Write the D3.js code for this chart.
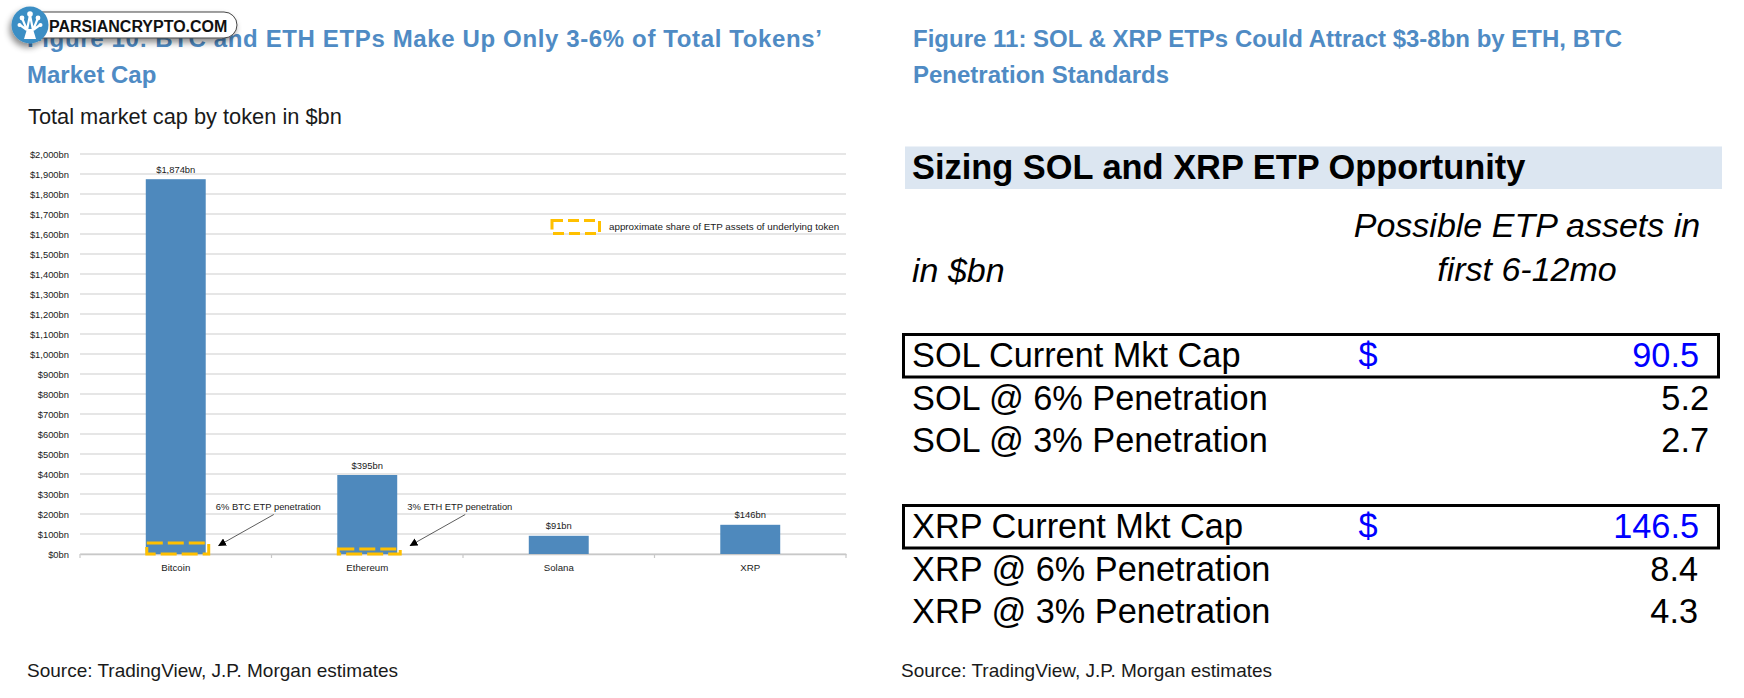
<!DOCTYPE html>
<html>
<head>
<meta charset="utf-8">
<script src="https://cdn.jsdelivr.net/npm/d3@7"></script>
<style>
  html, body { margin: 0; padding: 0; background: #ffffff; }
  svg { display: block; font-family: "Liberation Sans", Arial, Helvetica, sans-serif; }
</style>
</head>
<body>
<svg id="chart" width="1744" height="698"></svg>
<script>
// ---------- data ----------
const categories = ["Bitcoin", "Ethereum", "Solana", "XRP"];
const marketCap = [1874, 395, 91, 146];               // $bn
const etpBoxValue = [55, 25, null, null];             // approx ETP share box height ($bn)
const etpNotes = ["6% BTC ETP penetration", "3% ETH ETP penetration", null, null];
const yTicks = d3.range(0, 2001, 100);
const legendText = "approximate share of ETP assets of underlying token";

const leftTitle = ["Figure 10: BTC and ETH ETPs Make Up Only 3-6% of Total Tokens\u2019", "Market Cap"];
const leftSubtitle = "Total market cap by token in $bn";
const rightTitle = ["Figure 11: SOL & XRP ETPs Could Attract $3-8bn by ETH, BTC", "Penetration Standards"];
const tableHeader = "Sizing SOL and XRP ETP Opportunity";
const colHeader = ["Possible ETP assets in", "first 6-12mo"];
const unitLabel = "in $bn";
const tableGroups = ["SOL", "XRP"];
const rowLabels = [
  ["SOL Current Mkt Cap", "SOL @ 6% Penetration", "SOL @ 3% Penetration"],
  ["XRP Current Mkt Cap", "XRP @ 6% Penetration", "XRP @ 3% Penetration"]
];
const rowValues = [[90.5, 5.2, 2.7], [146.5, 8.4, 4.3]];
const sourceText = "Source: TradingView, J.P. Morgan estimates";

// ---------- styles ----------
const titleBlue = "#4f8bc4";
const barBlue = "#4e89bd";
const gold = "#ffc000";
const textDark = "#1a1a1a";

const svg = d3.select("#chart");
svg.append("rect").attr("width", 1744).attr("height", 698).attr("fill", "#fff");

const defs = svg.append("defs");
defs.append("marker").attr("id", "arrow").attr("viewBox", "0 0 10 10")
  .attr("refX", 9).attr("refY", 5).attr("markerWidth", 8).attr("markerHeight", 8)
  .attr("markerUnits", "userSpaceOnUse").attr("orient", "auto")
  .append("path").attr("d", "M0,0 L10,5 L0,10 Z").attr("fill", "#000");
const shadow = defs.append("filter").attr("id", "shadow").attr("x", "-30%").attr("y", "-50%").attr("width", "160%").attr("height", "220%");
shadow.append("feDropShadow").attr("dx", -2).attr("dy", 4).attr("stdDeviation", 3).attr("flood-color", "#000").attr("flood-opacity", 0.45);

// ---------- left panel titles (first line justified to column width) ----------
leftTitle.forEach((t, i) => {
  const el = svg.append("text").attr("x", 27).attr("y", 46.5 + i * 36.6)
    .attr("font-size", 24).attr("font-weight", "bold").attr("fill", titleBlue).text(t);
  if (i === 0) {
    const len = el.node().getComputedTextLength();
    const target = 795;
    if (len < target) el.attr("textLength", target).attr("lengthAdjust", "spacing");
  }
});
svg.append("text").attr("x", 28).attr("y", 123.5).attr("font-size", 21.8).attr("fill", textDark).text(leftSubtitle);

// ---------- bar chart ----------
const y = d3.scaleLinear().domain([0, 2000]).range([554, 154]);
const x = d3.scaleBand().domain(categories).range([80, 846]).padding(0);
const barW = x.bandwidth() * 0.313;

// gridlines
svg.append("g").selectAll("line").data(yTicks).join("line")
  .attr("x1", 80).attr("x2", 846)
  .attr("y1", d => y(d)).attr("y2", d => y(d))
  .attr("stroke", "#dedede").attr("stroke-width", 1.5);

// y axis labels
const yAxis = d3.axisLeft(y).tickValues(yTicks).tickSize(0).tickPadding(0)
  .tickFormat(d => "$" + d3.format(",")(d) + "bn");
const gy = svg.append("g").attr("transform", "translate(69,0)").call(yAxis);
gy.select(".domain").remove();
gy.selectAll("text").attr("font-size", 9.4).attr("fill", textDark)
  .attr("font-family", "'Liberation Sans', Arial, sans-serif");

// x axis
const xAxis = d3.axisBottom(x).tickSize(0).tickPadding(10);
const gx = svg.append("g").attr("transform", "translate(0,554)").call(xAxis);
gx.select(".domain").attr("stroke", "#c8c8c8").attr("stroke-width", 1.5);
gx.selectAll("text").attr("font-size", 9.7).attr("fill", textDark)
  .attr("font-family", "'Liberation Sans', Arial, sans-serif");
const edges = categories.map(c => x(c)).concat([x(categories[categories.length - 1]) + x.bandwidth()]);
svg.append("g").selectAll("line").data(edges).join("line")
  .attr("x1", d => d).attr("x2", d => d).attr("y1", 554).attr("y2", 558)
  .attr("stroke", "#c8c8c8").attr("stroke-width", 1.2);

// bars
const barData = categories.map((c, i) => ({ c, v: marketCap[i], box: etpBoxValue[i], note: etpNotes[i] }));
svg.append("g").selectAll("rect").data(barData).join("rect")
  .attr("x", d => x(d.c) + (x.bandwidth() - barW) / 2)
  .attr("y", d => y(d.v)).attr("width", barW).attr("height", d => y(0) - y(d.v))
  .attr("fill", barBlue);

// value labels
svg.append("g").selectAll("text").data(barData).join("text")
  .attr("x", d => x(d.c) + x.bandwidth() / 2)
  .attr("y", d => y(d.v) - 6.5)
  .attr("text-anchor", "middle").attr("font-size", 9.4).attr("fill", textDark)
  .text(d => "$" + d3.format(",")(d.v) + "bn");

// ETP dashed boxes
const boxData = barData.filter(d => d.box != null);
svg.append("g").selectAll("rect").data(boxData).join("rect")
  .attr("x", d => x(d.c) + (x.bandwidth() - barW) / 2 + 1)
  .attr("y", d => y(d.box))
  .attr("width", barW + 2)
  .attr("height", d => y(0) - y(d.box))
  .attr("fill", "none").attr("stroke", gold).attr("stroke-width", 3)
  .attr("stroke-dasharray", "16,5");

// annotations
boxData.forEach(d => {
  const cx = x(d.c) + x.bandwidth() / 2;
  const tx = cx + 40;
  svg.append("text").attr("x", tx).attr("y", 509.5).attr("font-size", 9.4).attr("fill", textDark).text(d.note);
  svg.append("line").attr("x1", tx + 58).attr("y1", 514.5).attr("x2", tx + 3).attr("y2", 545.5)
    .attr("stroke", "#333").attr("stroke-width", 0.8).attr("marker-end", "url(#arrow)");
});

// legend
svg.append("rect").attr("x", 552).attr("y", 220.5).attr("width", 47.5).attr("height", 13)
  .attr("fill", "none").attr("stroke", gold).attr("stroke-width", 3).attr("stroke-dasharray", "11,5");
svg.append("text").attr("x", 609).attr("y", 230).attr("font-size", 9.8).attr("fill", textDark).text(legendText);

// source left
svg.append("text").attr("x", 27).attr("y", 677).attr("font-size", 19).attr("fill", textDark).text(sourceText);

// ---------- right panel ----------
rightTitle.forEach((t, i) => {
  svg.append("text").attr("x", 913).attr("y", 46.5 + i * 36.6)
    .attr("font-size", 24).attr("font-weight", "bold").attr("fill", titleBlue).text(t);
});

svg.append("rect").attr("x", 905).attr("y", 146.5).attr("width", 817).attr("height", 42.5).attr("fill", "#dce6f1");
svg.append("text").attr("x", 912).attr("y", 178.5).attr("font-size", 34.4).attr("font-weight", "bold").attr("fill", "#000").text(tableHeader);

colHeader.forEach((t, i) => {
  svg.append("text").attr("x", 1527).attr("y", 237 + i * 44).attr("text-anchor", "middle")
    .attr("font-size", 34).attr("font-style", "italic").attr("fill", "#000").text(t);
});
svg.append("text").attr("x", 912).attr("y", 281.5).attr("font-size", 34).attr("font-style", "italic").attr("fill", "#000").text(unitLabel);

const rowY = d3.scaleLinear().domain([0, 1]).range([0, 171]);
tableGroups.forEach((g, gi) => {
  const base = 367 + rowY(gi);
  svg.append("rect").attr("x", 903.5).attr("y", base - 32.5).attr("width", 815).attr("height", 42.5)
    .attr("fill", "none").attr("stroke", "#000").attr("stroke-width", 3);
  rowLabels[gi].forEach((lab, ri) => {
    const yy = base + ri * 42.7;
    svg.append("text").attr("x", 912).attr("y", yy).attr("font-size", 34.3).attr("fill", "#000").text(lab);
    const isCap = ri === 0;
    if (isCap) {
      svg.append("text").attr("x", 1368).attr("y", yy).attr("text-anchor", "middle")
        .attr("font-size", 34.3).attr("fill", "#0000ff").text("$");
    }
    const rx = isCap ? 1699 : (gi === 0 ? 1709 : 1698);
    svg.append("text").attr("x", rx).attr("y", yy).attr("text-anchor", "end")
      .attr("font-size", 34.3).attr("fill", isCap ? "#0000ff" : "#000")
      .text(rowValues[gi][ri].toFixed(1));
  });
});

svg.append("text").attr("x", 901).attr("y", 677).attr("font-size", 19).attr("fill", textDark).text(sourceText);

// ---------- watermark badge ----------
const wm = svg.append("g").attr("filter", "url(#shadow)");
wm.append("rect").attr("x", 20).attr("y", 12).attr("width", 217).attr("height", 26).attr("rx", 13)
  .attr("fill", "#fff").attr("stroke", "#444").attr("stroke-width", 1);
wm.append("circle").attr("cx", 30).attr("cy", 25).attr("r", 18.5).attr("fill", "#3b8ec4");
const logo = svg.append("g").attr("fill", "#fff").attr("stroke", "#fff");
[[30, 14, 2.8], [22, 18, 2.4], [38, 18, 2.4], [19.5, 25, 2], [40.5, 25, 2]].forEach(p => {
  logo.append("circle").attr("cx", p[0]).attr("cy", p[1]).attr("r", p[2]).attr("stroke", "none");
});
logo.append("path").attr("d", "M27,30 L22,18 M27,30 L30,15 M33,30 L38,18 M27,30 L20,25 M33,30 L40,25 M30,15 L33,30")
  .attr("fill", "none").attr("stroke-width", 2.2);
logo.append("path").attr("d", "M24,39 L36,39 L33,29 L27,29 Z").attr("stroke", "none");
svg.append("text").attr("x", 49).attr("y", 31.5).attr("font-size", 16).attr("font-weight", "bold").attr("fill", "#111")
  .attr("font-family", "'Liberation Sans', Arial, sans-serif").text("PARSIANCRYPTO.COM");
</script>
</body>
</html>
